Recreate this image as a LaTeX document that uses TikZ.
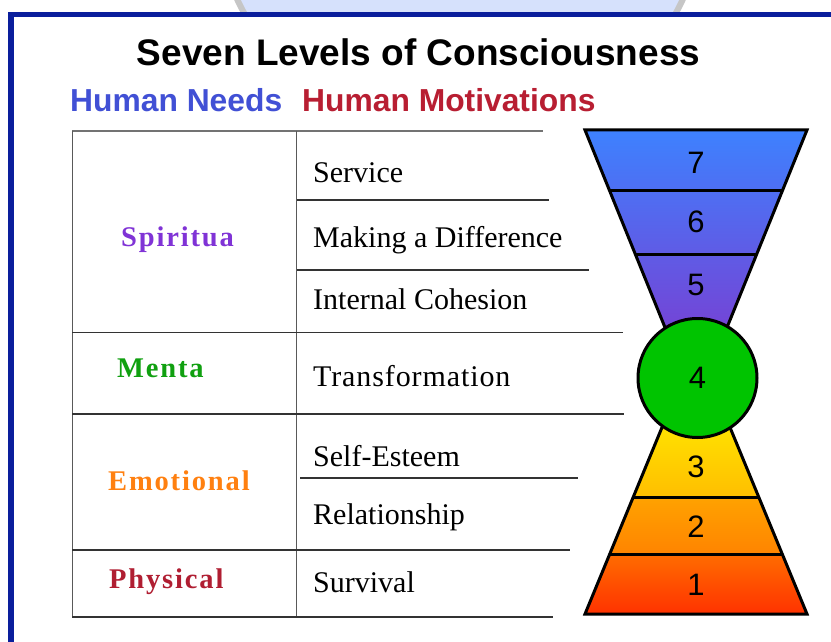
\documentclass[tikz,border=0pt]{standalone}
\usepackage{fontspec}
\setmainfont{Liberation Serif}
\newfontfamily\sansf{Liberation Sans}
\newfontfamily\serifsp{Liberation Serif}[LetterSpace=3]
\newfontfamily\labf{Liberation Serif}[LetterSpace=6.5]
\definecolor{frameblue}{HTML}{0A1E9C}
\definecolor{topblue}{HTML}{D6E1FC}
\definecolor{needblue}{HTML}{4150D5}
\definecolor{motred}{HTML}{B81E32}
\definecolor{spipurple}{HTML}{8033D6}
\definecolor{mentgreen}{HTML}{10A010}
\definecolor{emoorange}{HTML}{FF8010}
\definecolor{phyred}{HTML}{B01E32}
\definecolor{ballgreen}{HTML}{00C400}
\definecolor{fblueA}{HTML}{3D82FF}
\definecolor{fblueB}{HTML}{7444D6}
\definecolor{yelA}{HTML}{FFE400}
\definecolor{yelB}{HTML}{FFBE00}
\definecolor{orA}{HTML}{FFA200}
\definecolor{orB}{HTML}{FF8400}
\definecolor{redA}{HTML}{FF6C00}
\definecolor{redB}{HTML}{FF3000}
\tikzset{
  hline/.style={draw=black!80, line width=1.4pt},
  vline/.style={draw=black!65, line width=1.2pt},
  rtext/.style={anchor=base west, inner sep=0pt, font=\fontsize{30}{32}\selectfont},
  ltext/.style={anchor=base west, inner sep=0pt, font=\labf\bfseries\fontsize{28.5}{30}\selectfont},
  num/.style={inner sep=0pt, font=\sansf\fontsize{31}{32}\selectfont},
  outl/.style={draw=black, line width=3pt, line join=miter},
}
\begin{document}
\begin{tikzpicture}[x=1pt,y=-1pt]
\useasboundingbox (0,0) rectangle (831,642);
\fill[white] (0,0) rectangle (831,642);
% top background shape
\begin{scope}
\clip (0,0) rectangle (831,14);
\draw[draw=gray!45, line width=6pt, fill=topblue] (460,-105) circle [radius=246pt];
\end{scope}
% frame
\draw[frameblue, line width=5.5pt, line join=miter] (850,14.5) -- (11,14.5) -- (11,660);

% title
\node[anchor=base, inner sep=0pt, font=\sansf\bfseries\fontsize{37}{40}\selectfont] (title) at (418.5,66) {Seven Levels of Consciousness};
\node[anchor=base west, inner sep=0pt, text=needblue, font=\sansf\bfseries\fontsize{31.8}{34}\selectfont] (needs) at (70,112) {Human Needs};
\node[anchor=base west, inner sep=0pt, text=motred, font=\sansf\bfseries\fontsize{31.8}{34}\selectfont] (motiv) at (302,112) {Human Motivations};

% table lines
\draw[draw=black!55, line width=1.3pt] (72,131) -- (543,131);
\draw[vline] (72.5,131) -- (72.5,617);
\draw[vline] (296.7,131) -- (296.7,617);
\draw[hline] (296.7,200) -- (549,200);
\draw[hline] (296.7,270) -- (589,270);
\draw[hline] (72,332.5) -- (623,332.5);
\draw[hline] (72,414) -- (624,414);
\draw[hline] (300,478) -- (578,478);
\draw[hline] (72,550) -- (570,550);
\draw[hline] (72,617) -- (553,617);

% left labels
\node[ltext, text=spipurple] (spi) at (121,246) {Spiritua};
\node[ltext, text=mentgreen] (men) at (117,377) {Menta};
\node[ltext, text=emoorange] (emo) at (108,490.7) {Emotional};
\node[ltext, text=phyred] (phy) at (109,588.3) {Physical};

% right texts
\node[rtext] (t7) at (313,182.7) {Service};
\node[rtext] (t6) at (313,247) {Making a Difference};
\node[rtext] (t5) at (313,309) {Internal Cohesion};
\node[rtext, font=\serifsp\fontsize{30}{32}\selectfont] (t4) at (313,386) {Transformation};
\node[rtext] (t3) at (313,466.7) {Self-Esteem};
\node[rtext] (t2) at (313,524) {Relationship};
\node[rtext] (t1) at (313,592.7) {Survival};

% upper funnel
\begin{scope}
\clip (585,130) -- (807,130) -- (696,404) -- cycle;
\shade[top color=fblueA, bottom color=fblueB] (580,128) rectangle (812,330);
\fill[fblueB] (580,329) rectangle (812,410);
\draw[outl] (560,190.7) -- (830,190.7);
\draw[outl] (560,254) -- (830,254);
\end{scope}
\draw[outl] (585,130) -- (807,130) -- (696,404) -- cycle;

% lower funnel
\begin{scope}
\clip (585,614) -- (807,614) -- (696,345) -- cycle;
\shade[top color=yelA, bottom color=yelB] (580,420) rectangle (812,497.3);
\fill[yelA] (580,340) rectangle (812,421);
\shade[top color=orA, bottom color=orB] (580,497.3) rectangle (812,554.3);
\shade[top color=redA, bottom color=redB] (580,554.3) rectangle (812,616);
\draw[outl] (560,497.3) -- (830,497.3);
\draw[outl] (560,554.3) -- (830,554.3);
\end{scope}
\draw[outl] (585,614) -- (807,614) -- (696,345) -- cycle;

% circle
\node[circle, draw=black, line width=3pt, fill=ballgreen, minimum size=119pt, inner sep=0pt, font=\sansf\fontsize{31}{32}\selectfont] (c4) at (697.5,378) {4};

% numbers
\node[num] (n7) at (696,162.5) {7};
\node[num] (n6) at (696,221.7) {6};
\node[num] (n5) at (696,285) {5};
\node[num] (n3) at (696,466.7) {3};
\node[num] (n2) at (696,527) {2};
\node[num] (n1) at (696,584.7) {1};
\end{tikzpicture}
\end{document}
